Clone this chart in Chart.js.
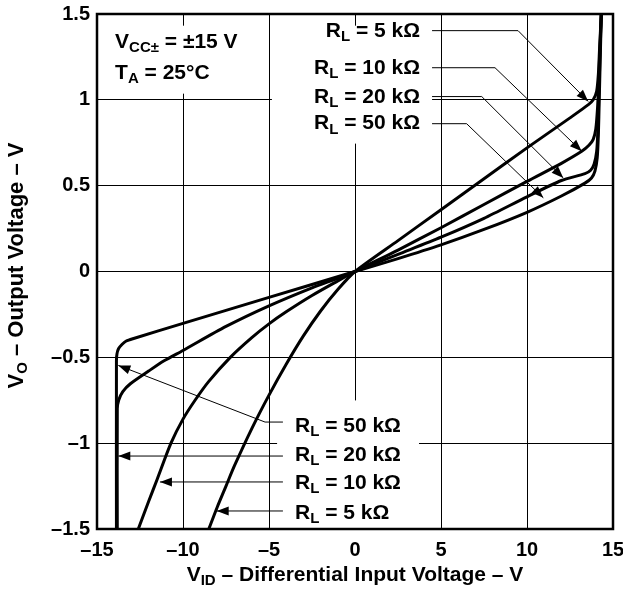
<!DOCTYPE html>
<html>
<head>
<meta charset="utf-8">
<script src="https://cdn.jsdelivr.net/npm/chart.js@4/dist/chart.umd.min.js"></script>
<style>
html,body{margin:0;padding:0;background:#fff;}
#wrap{width:623px;height:590px;position:relative;}
</style>
</head>
<body>
<div id="wrap"><canvas id="c"></canvas></div>
<script>
// ---- Data ----
const xTicks = [-15, -10, -5, 0, 5, 10, 15];
const yTicks = [-1.5, -1, -0.5, 0, 0.5, 1, 1.5];
const seriesNames = ['RL = 5 kΩ', 'RL = 10 kΩ', 'RL = 20 kΩ', 'RL = 50 kΩ'];

const rl5_x  = [-8.5, -8.0, -7.5, -7.0, -6.0, -5.0, -4.0, -3.0, -2.0, -1.0, 0, 2.5, 5, 7.5, 10, 12.5, 13.57, 13.85, 14.05, 14.15, 14.22, 14.32];
const rl5_y  = [-1.5, -1.37, -1.25, -1.13, -0.915, -0.72, -0.54, -0.375, -0.23, -0.105, 0, 0.18, 0.36, 0.54, 0.72, 0.895, 0.972, 1.0, 1.05, 1.15, 1.3, 1.5];

const rl10_x = [-12.6, -12.0, -11.5, -10.7, -10.0, -9.3, -8.5, -7.25, -6.0, -5.0, -4.0, -2.5, -1.0, 0, 2.5, 5, 7.5, 10, 12, 13.18, 13.6, 13.85, 14.0, 14.1, 14.16, 14.22, 14.32];
const rl10_y = [-1.5, -1.34, -1.21, -1.0, -0.86, -0.75, -0.64, -0.5, -0.385, -0.305, -0.235, -0.14, -0.055, 0, 0.125, 0.255, 0.39, 0.525, 0.63, 0.70, 0.735, 0.77, 0.83, 0.95, 1.08, 1.25, 1.5];

const rl20_x = [-13.82, -13.82, -13.74, -13.5, -13.06, -12.0, -11.1, -10.0, -7.5, -5.0, -2.5, -1.0, 0, 2.5, 5, 7.5, 10, 12, 13.37, 13.7, 13.9, 14.05, 14.12, 14.17, 14.24, 14.32];
const rl20_y = [-1.5, -0.8, -0.75, -0.7, -0.654, -0.58, -0.52, -0.46, -0.32, -0.2, -0.095, -0.04, 0, 0.1, 0.2, 0.31, 0.435, 0.53, 0.57, 0.59, 0.625, 0.7, 0.82, 1.0, 1.25, 1.5];

const rl50_x = [-13.87, -13.87, -13.84, -13.75, -13.55, -13.3, -12.87, -10.0, -5.0, 0, 2.5, 5, 7.5, 10, 12, 13.37, 13.75, 13.95, 14.08, 14.15, 14.2, 14.26, 14.32];
const rl50_y = [-1.5, -0.52, -0.48, -0.45, -0.425, -0.405, -0.39, -0.302, -0.151, 0, 0.075, 0.155, 0.245, 0.345, 0.44, 0.515, 0.545, 0.585, 0.66, 0.8, 1.0, 1.25, 1.5];

// ---- Annotations (data coordinates) ----
const topLabelX = 3.78;
const topLabelY = [1.397, 1.182, 1.013, 0.861];          // 5k, 10k, 20k, 50k
const topLeaders = [
  [[4.48, 1.403], [9.48, 1.403], [13.56, 0.991]],
  [[4.48, 1.187], [8.14, 1.187], [13.18, 0.70]],
  [[4.48, 1.019], [7.37, 1.019], [12.11, 0.545]],
  [[4.48, 0.861], [6.49, 0.861], [10.95, 0.429]]
];
const botLabelX = -3.49;
const botLabelY = [-1.409, -1.234, -1.071, -0.902];       // 5k, 10k, 20k, 50k
const botLeaders = [
  [[-4.19, -1.395], [-8.04, -1.395]],
  [[-4.19, -1.226], [-11.34, -1.226]],
  [[-4.19, -1.075], [-13.76, -1.075]],
  [[-4.19, -0.877], [-5.23, -0.877], [-13.76, -0.547]]
];
const condX = -13.95;
const condY = [1.333, 1.158];
// white boxes behind the text blocks: [x0, x1, y0, y1]
const maskBoxes = [
  [-14.36, -6.1, 1.432, 1.036],
  [-4.83, 4.48, 1.432, 0.745],
  [-4.53, 3.72, -0.751, -1.5]
];

// ---- Styling ----
const FONT = "'Liberation Sans', Arial, Helvetica, sans-serif";
const TICK = 20;

function toPts(xs, ys){ return xs.map((v,i)=>({x:v, y:ys[i]})); }
function fmt(v){ return String(v).replace('-', '\u2013'); }

function drawRich(ctx, parts, x, y, align, main, sub){
  ctx.textBaseline = 'middle';
  let w = 0;
  parts.forEach(p=>{ ctx.font = 'bold ' + (p.sub?sub:main) + 'px ' + FONT; p.w = ctx.measureText(p.t).width; w += p.w; });
  let cx = align === 'right' ? x - w : align === 'center' ? x - w/2 : x;
  parts.forEach(p=>{
    ctx.font = 'bold ' + (p.sub?sub:main) + 'px ' + FONT;
    ctx.textAlign = 'left';
    ctx.fillText(p.t, cx, y + (p.sub ? main*0.27 : 0));
    cx += p.w;
  });
}
function rlParts(name){
  const rest = name.replace('RL', '');
  return [{t:'R'},{t:'L',sub:true},{t:rest}];
}

const annot = {
  id: 'annot',
  beforeDatasetsDraw(chart){
    const {ctx, scales:{x, y}} = chart;
    ctx.save();
    ctx.fillStyle = '#fff';
    maskBoxes.forEach(b=>{
      const x0 = x.getPixelForValue(b[0]), x1 = x.getPixelForValue(b[1]);
      const y0 = y.getPixelForValue(b[2]), y1 = y.getPixelForValue(b[3]);
      ctx.fillRect(Math.min(x0,x1), Math.min(y0,y1), Math.abs(x1-x0), Math.abs(y1-y0));
    });
    ctx.restore();
  },
  afterDraw(chart){
    const {ctx, chartArea:a, scales:{x, y}} = chart;
    ctx.save();
    // frame
    ctx.strokeStyle = '#000';
    ctx.lineWidth = 2.5;
    ctx.strokeRect(a.left, a.top, a.right - a.left, a.bottom - a.top);
    // leaders
    const drawLeader = (pts)=>{
      const px = pts.map(p=>[x.getPixelForValue(p[0]), y.getPixelForValue(p[1])]);
      ctx.lineWidth = 1;
      ctx.beginPath();
      px.forEach((p,i)=> i ? ctx.lineTo(p[0],p[1]) : ctx.moveTo(p[0],p[1]));
      ctx.stroke();
      const t = px[px.length-1], s = px[px.length-2];
      const ang = Math.atan2(t[1]-s[1], t[0]-s[0]);
      const L = 12, W = 4.5;
      ctx.beginPath();
      ctx.moveTo(t[0], t[1]);
      ctx.lineTo(t[0] - L*Math.cos(ang) + W*Math.sin(ang), t[1] - L*Math.sin(ang) - W*Math.cos(ang));
      ctx.lineTo(t[0] - L*Math.cos(ang) - W*Math.sin(ang), t[1] - L*Math.sin(ang) + W*Math.cos(ang));
      ctx.closePath();
      ctx.fillStyle = '#000';
      ctx.fill();
    };
    topLeaders.forEach(drawLeader);
    botLeaders.forEach(drawLeader);
    // labels
    ctx.fillStyle = '#000';
    seriesNames.forEach((n,i)=>{
      drawRich(ctx, rlParts(n), x.getPixelForValue(topLabelX), y.getPixelForValue(topLabelY[i]), 'right', 21, 15);
      drawRich(ctx, rlParts(n), x.getPixelForValue(botLabelX), y.getPixelForValue(botLabelY[i]), 'left', 21, 15);
    });
    drawRich(ctx, [{t:'V'},{t:'CC\u00B1',sub:true},{t:' = \u00B115 V'}], x.getPixelForValue(condX), y.getPixelForValue(condY[0]), 'left', 21, 15);
    drawRich(ctx, [{t:'T'},{t:'A',sub:true},{t:' = 25\u00B0C'}], x.getPixelForValue(condX), y.getPixelForValue(condY[1]), 'left', 21, 15);
    // axis titles
    drawRich(ctx, [{t:'V'},{t:'ID',sub:true},{t:' \u2013 Differential Input Voltage \u2013 V'}], (a.left+a.right)/2, a.bottom + 46, 'center', 21, 15);
    ctx.translate(a.left - 80, (a.top + a.bottom)/2 - 6);
    ctx.rotate(-Math.PI/2);
    drawRich(ctx, [{t:'V'},{t:'O',sub:true},{t:' \u2013 Output Voltage \u2013 V'}], 0, 0, 'center', 22, 15);
    ctx.restore();
  }
};

const lineStyle = {showLine:true, borderColor:'#000', backgroundColor:'#000', borderWidth:3, pointRadius:0, tension:0.25, fill:false};

new Chart(document.getElementById('c'), {
  type: 'scatter',
  data: {
    datasets: [
      Object.assign({label: seriesNames[0], data: toPts(rl5_x, rl5_y)}, lineStyle),
      Object.assign({label: seriesNames[1], data: toPts(rl10_x, rl10_y)}, lineStyle),
      Object.assign({label: seriesNames[2], data: toPts(rl20_x, rl20_y)}, lineStyle),
      Object.assign({label: seriesNames[3], data: toPts(rl50_x, rl50_y)}, lineStyle)
    ]
  },
  options: {
    responsive: true,
    maintainAspectRatio: false,
    animation: false,
    layout: {padding: {top: 14, right: 10, left: 0, bottom: 0}},
    plugins: {legend: {display:false}, tooltip: {enabled:false}},
    scales: {
      x: {
        type: 'linear', min: xTicks[0], max: xTicks[xTicks.length-1],
        afterBuildTicks: s => { s.ticks = xTicks.map(v=>({value:v})); },
        afterFit: s => { s.height = 61; s.paddingLeft = 0; s.paddingRight = 0; },
        grid: {color:'#000', lineWidth:1, drawTicks:false},
        border: {display:false},
        ticks: {color:'#000', padding: 9, font:{family:FONT, size:TICK, weight:'bold'}, callback: v => fmt(v), maxRotation:0}
      },
      y: {
        type: 'linear', min: yTicks[0], max: yTicks[yTicks.length-1],
        afterBuildTicks: s => { s.ticks = yTicks.map(v=>({value:v})); },
        afterFit: s => { s.width = 97; s.paddingTop = 0; s.paddingBottom = 0; },
        grid: {color:'#000', lineWidth:1, drawTicks:false},
        border: {display:false},
        ticks: {color:'#000', padding: 7, font:{family:FONT, size:TICK, weight:'bold'}, callback: v => fmt(v)}
      }
    }
  },
  plugins: [annot]
});
</script>
</body>
</html>
